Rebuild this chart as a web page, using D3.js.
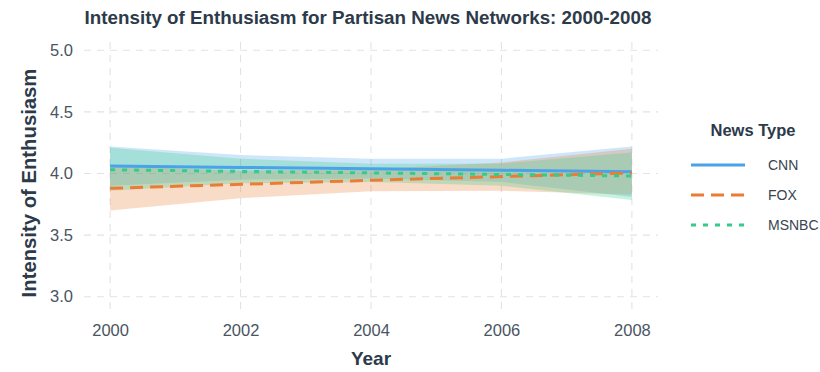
<!DOCTYPE html>
<html>
<head>
<meta charset="utf-8">
<script src="https://cdn.jsdelivr.net/npm/d3@7"></script>
<style>
  body { margin: 0; background: #fff; }
  text { font-family: "Liberation Sans", Arial, sans-serif; }
</style>
</head>
<body>
<svg id="chart" width="820" height="372"></svg>
<script>
const years = [2000, 2002, 2004, 2006, 2008];
const xTicks = [2000, 2002, 2004, 2006, 2008];
const yTicks = [3.0, 3.5, 4.0, 4.5, 5.0];
const networks = ["CNN", "FOX", "MSNBC"];

const cnnFit = [4.06, 4.049, 4.038, 4.026, 4.015];
const cnnLow = [3.90, 3.95, 3.96, 3.93, 3.81];
const cnnHigh = [4.22, 4.15, 4.12, 4.12, 4.22];

const foxFit = [3.88, 3.912, 3.945, 3.975, 4.005];
const foxLow = [3.70, 3.80, 3.855, 3.86, 3.83];
const foxHigh = [4.06, 4.02, 4.035, 4.09, 4.20];

const msnbcFit = [4.03, 4.017, 4.005, 3.992, 3.98];
const msnbcLow = [3.86, 3.92, 3.93, 3.90, 3.785];
const msnbcHigh = [4.21, 4.12, 4.08, 4.08, 4.17];

const series = [
    { name: "CNN", fit: cnnFit, low: cnnLow, high: cnnHigh, color: "#4aa3e8", dash: null },
    { name: "FOX", fit: foxFit, low: foxLow, high: foxHigh, color: "#ea7d35", dash: "13,7" },
    { name: "MSNBC", fit: msnbcFit, low: msnbcLow, high: msnbcHigh, color: "#33cc88", dash: "5,7" }
];

const svg = d3.select("#chart");
const textColor = "#2c3a4a";

const x = d3.scaleLinear().domain([1999.6, 2008.4]).range([84, 658]);
const y = d3.scaleLinear().domain([2.9, 5.1]).range([309, 38]);

// grid
const grid = svg.append("g");
grid.selectAll(".hg").data(yTicks).enter().append("line")
    .attr("x1", x.range()[0]).attr("x2", x.range()[1])
    .attr("y1", d => y(d)).attr("y2", d => y(d))
    .attr("stroke", "#e2e2e2").attr("stroke-width", 1.1).attr("stroke-dasharray", "7,6");
grid.selectAll(".vg").data(xTicks).enter().append("line")
    .attr("y1", y.range()[0]).attr("y2", y.range()[1])
    .attr("x1", d => x(d)).attr("x2", d => x(d))
    .attr("stroke", "#e2e2e2").attr("stroke-width", 1.1).attr("stroke-dasharray", "7,6");

// ribbons
const area = d3.area()
    .x((d, i) => x(years[i]))
    .y0(d => y(d[0]))
    .y1(d => y(d[1]));

series.forEach(s => {
    svg.append("path")
        .datum(s.low.map((v, i) => [v, s.high[i]]))
        .attr("fill", s.color)
        .attr("fill-opacity", 0.27)
        .attr("d", area);
});

const line = d3.line()
    .x((d, i) => x(years[i]))
    .y(d => y(d));

series.forEach(s => {
    svg.append("path")
        .datum(s.fit)
        .attr("fill", "none")
        .attr("stroke", s.color)
        .attr("stroke-width", 3)
        .attr("stroke-dasharray", s.dash)
        .attr("d", line);
});

// axes
const xAxis = svg.append("g")
    .attr("transform", `translate(0,${y.range()[0]})`)
    .call(d3.axisBottom(x).tickValues(xTicks).tickFormat(d3.format("d")).tickSize(0).tickPadding(15));
const yAxis = svg.append("g")
    .attr("transform", `translate(${x.range()[0]},0)`)
    .call(d3.axisLeft(y).tickValues(yTicks).tickFormat(d3.format(".1f")).tickSize(0).tickPadding(11));
[xAxis, yAxis].forEach(a => {
    a.select(".domain").remove();
    a.selectAll("text")
        .attr("font-size", 16.5)
        .attr("fill", "#4a5562")
        .style("font-family", "Liberation Sans, Arial, sans-serif");
});

// titles
svg.append("text")
    .attr("x", 368).attr("y", 24)
    .attr("text-anchor", "middle")
    .attr("font-size", 18.8).attr("font-weight", "bold")
    .attr("fill", textColor)
    .text("Intensity of Enthusiasm for Partisan News Networks: 2000-2008");

svg.append("text")
    .attr("x", 371).attr("y", 365)
    .attr("text-anchor", "middle")
    .attr("font-size", 19).attr("font-weight", "bold")
    .attr("fill", textColor)
    .text("Year");

svg.append("text")
    .attr("transform", "translate(36,183) rotate(-90)")
    .attr("text-anchor", "middle")
    .attr("font-size", 20.3).attr("font-weight", "bold")
    .attr("fill", textColor)
    .text("Intensity of Enthusiasm");

// legend
const legend = svg.append("g");
legend.append("text")
    .attr("x", 753).attr("y", 136)
    .attr("text-anchor", "middle")
    .attr("font-size", 16.5).attr("font-weight", "bold")
    .attr("fill", textColor)
    .text("News Type");

const keyY = d3.scalePoint().domain(networks).range([165, 225]);
series.forEach(s => {
    legend.append("line")
        .attr("x1", 691).attr("x2", 745)
        .attr("y1", keyY(s.name)).attr("y2", keyY(s.name))
        .attr("stroke", s.color)
        .attr("stroke-width", 3)
        .attr("stroke-dasharray", s.dash);
    legend.append("text")
        .attr("x", 768).attr("y", keyY(s.name) + 5)
        .attr("font-size", 14)
        .attr("fill", "#3a4450")
        .text(s.name);
});
</script>
</body>
</html>
